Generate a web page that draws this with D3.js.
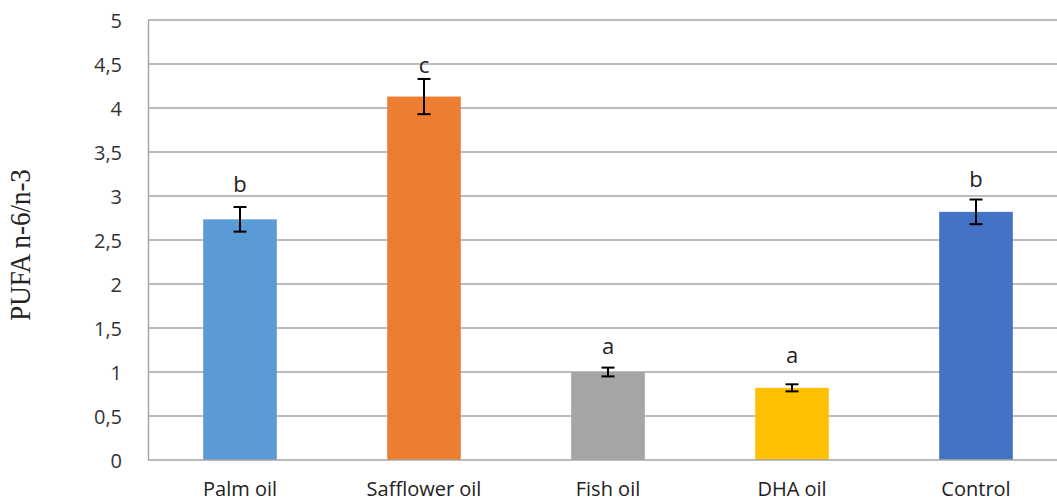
<!DOCTYPE html>
<html>
<head>
<meta charset="utf-8">
<script src="https://cdn.jsdelivr.net/npm/d3@7"></script>
<style>
  html, body { margin: 0; padding: 0; background: #ffffff; }
  svg { display: block; }
</style>
</head>
<body>
<svg id="chart" width="1057" height="501"></svg>
<script>
// ---- data ----
const categories = ["Palm oil", "Safflower oil", "Fish oil", "DHA oil", "Control"];
const values     = [2.735, 4.13, 1.00, 0.82, 2.82];
const errors     = [0.14, 0.20, 0.05, 0.04, 0.14];
const letters    = ["b", "c", "a", "a", "b"];
const letterAt   = [3.05, 4.40, 1.205, 1.10, 3.106];
const colors     = ["#5b9bd5", "#ed7d31", "#a5a5a5", "#ffc000", "#4472c4"];
const yTicks     = [0, 0.5, 1, 1.5, 2, 2.5, 3, 3.5, 4, 4.5, 5];
const yTitle     = "PUFA n-6/n-3";

// ---- layout ----
const svg = d3.select("#chart");
const mLeft = 148, mTop = 20, mBottom = 460, mRight = 1068;

const x = d3.scaleBand().domain(categories).range([mLeft, mRight]).paddingInner(0.6).paddingOuter(0.3);
const y = d3.scaleLinear().domain([0, 5]).range([mBottom, mTop]);

const fmt = d => String(d).replace(".", ",");
const grid = "#a6a6a6";

// gridlines
svg.append("g").selectAll("line").data(yTicks.filter(d => d > 0)).join("line")
  .attr("x1", mLeft).attr("x2", 1057)
  .attr("y1", d => y(d)).attr("y2", d => y(d))
  .attr("stroke", grid).attr("stroke-width", 1.5);

// y axis (no tick marks)
const yAxis = svg.append("g").attr("transform", `translate(${mLeft},0)`)
  .call(d3.axisLeft(y).tickValues(yTicks).tickFormat(fmt).tickSize(0).tickPadding(26));
yAxis.select(".domain").attr("stroke", grid).attr("stroke-width", 1.5);
yAxis.selectAll("text")
  .attr("font-family", "'Open Sans', sans-serif").attr("font-size", 20)
  .attr("fill", "#333").attr("dy", "0.36em");

// bars
svg.append("g").selectAll("rect").data(categories).join("rect")
  .attr("x", d => x(d)).attr("width", x.bandwidth())
  .attr("y", (d, i) => y(values[i]))
  .attr("height", (d, i) => y(0) - y(values[i]))
  .attr("fill", (d, i) => colors[i]);

// x axis
const xAxis = svg.append("g").attr("transform", `translate(0,${mBottom})`)
  .call(d3.axisBottom(x).tickSize(0).tickPadding(22));
xAxis.select(".domain").attr("stroke", grid).attr("stroke-width", 1.5)
  .attr("d", `M${mLeft},0H1057`);
xAxis.selectAll("text")
  .attr("font-family", "'Open Sans', sans-serif").attr("font-size", 20)
  .attr("fill", "#222").attr("dy", "0.71em");

// error bars
const eg = svg.append("g").attr("stroke", "#000").attr("stroke-width", 2);
categories.forEach((c, i) => {
  const cx = x(c) + x.bandwidth() / 2;
  const hi = y(values[i] + errors[i]), lo = y(values[i] - errors[i]);
  eg.append("line").attr("x1", cx).attr("x2", cx).attr("y1", hi).attr("y2", lo);
  eg.append("line").attr("x1", cx - 6.5).attr("x2", cx + 6.5).attr("y1", hi).attr("y2", hi);
  eg.append("line").attr("x1", cx - 6.5).attr("x2", cx + 6.5).attr("y1", lo).attr("y2", lo);
});

// significance letters
svg.append("g").selectAll("text").data(categories).join("text")
  .attr("x", d => x(d) + x.bandwidth() / 2)
  .attr("y", (d, i) => y(letterAt[i]))
  .attr("text-anchor", "middle")
  .attr("font-family", "'Open Sans', sans-serif").attr("font-size", 22)
  .attr("fill", "#222")
  .text((d, i) => letters[i]);

// y title
svg.append("text")
  .attr("transform", `translate(30,245) rotate(-90) scale(1,1.1)`)
  .attr("text-anchor", "middle")
  .attr("font-family", "'Liberation Serif', 'Times New Roman', serif")
  .attr("font-size", 27).attr("fill", "#222")
  .text(yTitle);
</script>
</body>
</html>
